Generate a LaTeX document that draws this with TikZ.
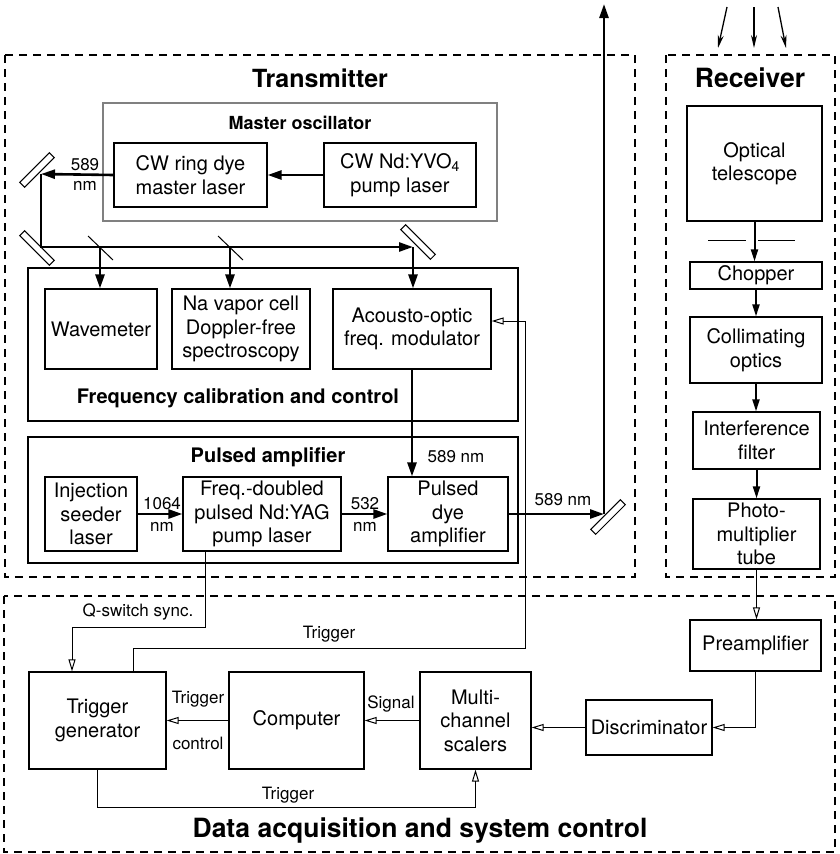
\documentclass[tikz,border=0pt]{standalone}
\usepackage{fontspec}
\setmainfont{TeX Gyre Heros}
\usetikzlibrary{arrows.meta}

\newcommand\boxfont{\fontsize{20}{23.5}\selectfont}
\newcommand\lblfont{\fontsize{17}{20}\selectfont}

\tikzset{
  blk/.style={draw, line width=1.2pt, align=center, inner sep=0pt, font=\boxfont},
  frame/.style={draw, line width=1.2pt, dash pattern=on 8pt off 6pt},
  group/.style={draw, line width=1.2pt},
  beam/.style={line width=2.6pt, -{Triangle[length=14pt,width=9pt]}},
  rbeam/.style={line width=2pt, -{Triangle[length=12pt,width=7pt]}},
  ray/.style={line width=1.3pt, -{Stealth[length=13pt,width=6pt]}},
  sig/.style={line width=1pt, -{Triangle[open,length=12pt,width=7pt]}},
  mirror/.style={draw, fill=white, line width=1pt, minimum width=42pt, minimum height=7pt, inner sep=0pt},
  lbl/.style={font=\lblfont, align=center, inner sep=0pt},
  ttl/.style={font=\fontsize{25}{28}\selectfont\bfseries, inner sep=0pt},
  subttl/.style={font=\fontsize{20}{24}\selectfont\bfseries, inner sep=0pt},
}

\begin{document}
\begin{tikzpicture}[x=1pt, y=-1pt]
  \useasboundingbox (0,0) rectangle (839,854);

  % dashed frames
  \draw[frame] (5,55) rectangle (635,577);
  \draw[frame] (666,55) rectangle (835,577);
  \draw[frame] (4,596) rectangle (835,852);
  \node[ttl] (txtitle) at (320,78) {Transmitter};
  \node[ttl, font=\fontsize{26.5}{30}\selectfont\bfseries] (rxtitle) at (750,78) {Receiver};
  \node[ttl, font=\fontsize{26.5}{30}\selectfont\bfseries] (daqtitle) at (420,831) {Data acquisition and system control};

  % sub groups of the transmitter
  \draw[line width=2.5pt, black!50] (103,103) rectangle (497,221);
  \draw[group] (28,268) rectangle (518,421);
  \draw[group] (28,437) rectangle (518,563);
  \node[subttl, font=\fontsize{18}{22}\selectfont\bfseries] (motitle) at (300,123) {Master oscillator};
  \node[subttl] (fctitle) at (238,398) {Frequency calibration and control};
  \node[subttl] (patitle) at (268,457) {Pulsed amplifier};

  % transmitter boxes
  \node[blk, minimum width=153, minimum height=64] (ringdye) at (190.5,175) {CW ring dye\\master laser};
  \node[blk, minimum width=152, minimum height=64] (ndyvo) at (400,175) {CW Nd:YVO\textsubscript{4}\\pump laser};
  \node[blk, minimum width=112, minimum height=80] (wavemeter) at (101,329) {Wavemeter};
  \node[blk, minimum width=138, minimum height=80] (navapor) at (241,329) {Na vapor cell\\Doppler-free\\spectroscopy};
  \node[blk, minimum width=158, minimum height=80] (aom) at (412,329) {Acousto-optic\\freq. modulator};
  \node[blk, minimum width=92, minimum height=74] (seeder) at (91,514) {Injection\\seeder\\laser};
  \node[blk, minimum width=158, minimum height=74] (yag) at (262,514) {Freq.-doubled\\pulsed Nd:YAG\\pump laser};
  \node[blk, minimum width=120, minimum height=74] (dyeamp) at (448,514) {Pulsed\\dye\\amplifier};

  % receiver boxes
  \node[blk, minimum width=135, minimum height=115] (telescope) at (754.5,163.5) {Optical\\telescope};
  \node[blk, minimum width=132, minimum height=27] (chopper) at (756,275.5) {Chopper};
  \node[blk, minimum width=132, minimum height=66] (collim) at (756,350) {Collimating\\optics};
  \node[blk, minimum width=127, minimum height=57] (filter) at (756.5,440.5) {Interference\\filter};
  \node[blk, minimum width=127, minimum height=70] (pmt) at (756.5,534) {Photo-\\multiplier\\tube};

  % data acquisition boxes
  \node[blk, minimum width=131, minimum height=51] (preamp) at (755.5,645.5) {Preamplifier};
  \node[blk, minimum width=126, minimum height=55] (discr) at (649,727.5) {Discriminator};
  \node[blk, minimum width=111, minimum height=97] (scalers) at (475.5,720.5) {Multi-\\channel\\scalers};
  \node[blk, minimum width=135, minimum height=97] (computer) at (296.5,720.5) {Computer};
  \node[blk, minimum width=137, minimum height=97] (triggen) at (97.5,720.5) {Trigger\\generator};

  % mirrors and splitters
  \coordinate (m1) at (41,174);
  \coordinate (m2) at (41,247);
  \coordinate (m3) at (413,247);
  \coordinate (m4) at (604,514);
  \coordinate (s1) at (100,247);
  \coordinate (s2) at (230,247);
  \coordinate (up) at (604,4);
  \node[mirror, rotate=45] (mir1) at (37,170) {};
  \node[mirror, rotate=-45] (mir2) at (37,248) {};
  \node[mirror, rotate=-45] (mir3) at (418,242) {};
  \node[mirror, rotate=45] (mir4) at (608,517) {};
  \draw[line width=1pt] (s1) ++(-12,-11) -- ++(25,24);
  \draw[line width=1pt] (s2) ++(-12,-11) -- ++(25,24);

  % beam path
  \draw[beam] (ndyvo.west) -- (ringdye.east);
  \draw[beam] (ringdye.west) -- (m1);
  \draw[beam] (m1) -- (m2) -- (m3);
  \draw[beam] (s1) -- (s1 |- wavemeter.north);
  \draw[beam] (s2) -- (s2 |- navapor.north);
  \draw[beam] (m3) -- (m3 |- aom.north);
  \draw[beam] (aom.south) -- (aom.south |- dyeamp.north);
  \draw[beam] (seeder.east) -- (yag.west);
  \draw[beam] (yag.east) -- (dyeamp.west);
  \draw[beam] (dyeamp.east) -- (m4);
  \draw[beam] (m4) -- (up);

  % beam labels
  \node[lbl, font=\fontsize{17}{20}\selectfont] (l589a) at (85,174) {589\\nm};
  \node[lbl, font=\fontsize{17}{22}\selectfont] (l1064) at (162,514) {1064\\nm};
  \node[lbl, font=\fontsize{17}{22}\selectfont] (l532) at (365,514) {532\\nm};
  \node[lbl] (l589b) at (456,457) {589 nm};
  \node[lbl] (l589c) at (563,500) {589 nm};

  % receiver optics
  \foreach \a/\b in {727/718, 754/754, 778/786}
    \draw[ray] (\a,7) -- (\b,48);
  \draw[line width=1pt] (708,240) -- (746,240) (758,240) -- (795,240);
  \draw[rbeam] (telescope.south) -- (telescope.south |- chopper.north);
  \draw[rbeam] (chopper.south) -- (chopper.south |- collim.north);
  \draw[rbeam] (collim.south) -- (collim.south |- filter.north);
  \draw[rbeam] (filter.south) -- (filter.south |- pmt.north);

  % signals
  \draw[sig] (pmt.south) -- (pmt.south |- preamp.north);
  \draw[sig] (preamp.south) |- (discr.east);
  \draw[sig] (discr.west) -- (discr.west -| scalers.east);
  \draw[sig] (scalers.west) -- (computer.east);
  \draw[sig] (computer.west) -- (triggen.east);
  \draw[sig] ([xshift=-57]yag.south) -- ++(0,76) -| ([xshift=-25.5]triggen.north);
  \draw[sig] ([xshift=35.5]triggen.north) |- (525,648) |- ([yshift=8]aom.east);
  \draw[sig] (triggen.south) -- ++(0,38) -| (scalers.south);
  \node[lbl] (lqsw) at (138,612) {Q-switch sync.};
  \node[lbl] (ltrig1) at (329,634) {Trigger};
  \node[lbl] (ltrig2) at (198,699) {Trigger};
  \node[lbl] (lctrl) at (198,743) {control};
  \node[lbl] (lsig) at (391,704) {Signal};
  \node[lbl] (ltrig3) at (288,795) {Trigger};
\end{tikzpicture}
\end{document}
